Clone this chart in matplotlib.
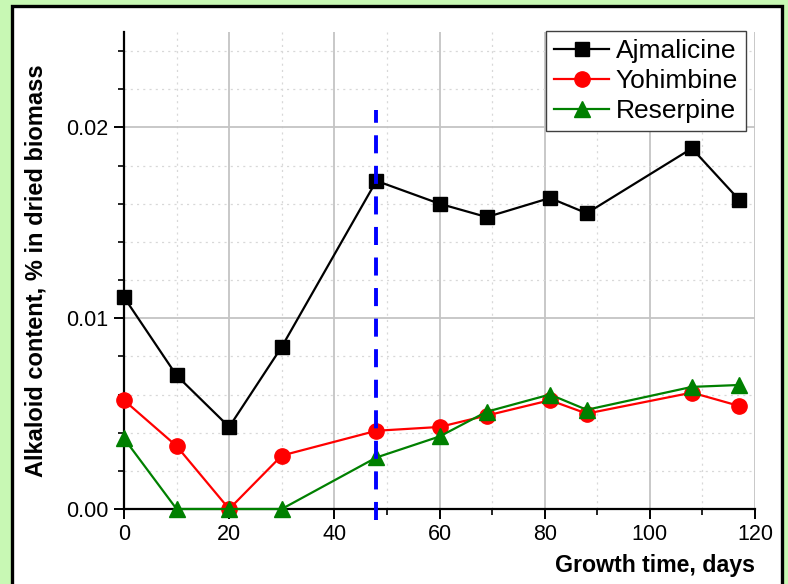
import matplotlib
matplotlib.use("Agg")
import matplotlib.pyplot as plt
from matplotlib.patches import Rectangle
from matplotlib.ticker import MultipleLocator, FormatStrFormatter

plt.rcParams['font.family'] = ['Liberation Sans', 'DejaVu Sans']
plt.rcParams['lines.scale_dashes'] = False

days = [0, 10, 20, 30, 48, 60, 69, 81, 88, 108, 117]
ajmalicine = [0.0111, 0.0070, 0.0043, 0.0085, 0.0172, 0.0160, 0.0153, 0.0163, 0.0155, 0.0189, 0.0162]
yohimbine = [0.0057, 0.0033, 0.0000, 0.0028, 0.0041, 0.0043, 0.0049, 0.0057, 0.0050, 0.0061, 0.0054]
reserpine = [0.0037, 0.0000, 0.0000, 0.0000, 0.0027, 0.0038, 0.0051, 0.0060, 0.0052, 0.0064, 0.0065]
marker_day = 48
marker_span = [-0.0006, 0.0209]

fig = plt.figure(figsize=(7.88, 5.84), dpi=100)
fig.patch.set_facecolor('#c8f8b4')
fig.patches.append(Rectangle((12/788, -0.02), (782-12)/788, 1.02 - 6/584 + 0.0,
                             transform=fig.transFigure, facecolor='white',
                             edgecolor='black', linewidth=2.4, zorder=-10))

ax = fig.add_axes([124/788, 1-509/584, (755-124)/788, (509-32)/584])
ax.set_facecolor('none')

ax.plot(days, ajmalicine, color='black', lw=1.6, marker='s', ms=10, label='Ajmalicine', zorder=5, clip_on=False)
ax.plot(days, yohimbine, color='red', lw=1.6, marker='o', ms=11, label='Yohimbine', zorder=4, clip_on=False)
ax.plot(days, reserpine, color='green', lw=1.6, marker='^', ms=11, label='Reserpine', zorder=6, clip_on=False)
ax.plot([marker_day, marker_day], marker_span, color='blue', lw=2.8, dashes=(13, 9), zorder=7, clip_on=False)

ax.set_xlim(0, 120)
ax.set_ylim(0, 0.025)
ax.xaxis.set_major_locator(MultipleLocator(20))
ax.xaxis.set_minor_locator(MultipleLocator(10))
ax.yaxis.set_major_locator(MultipleLocator(0.01))
ax.yaxis.set_minor_locator(MultipleLocator(0.002))
ax.yaxis.set_major_formatter(FormatStrFormatter('%.2f'))

ax.grid(which='major', color='#c4c4c4', lw=1.3, ls='-')
ax.grid(which='minor', color='#d8d8d8', lw=0.9, ls=(0, (1.5, 3.0)))
ax.set_axisbelow(True)

for s in ['top', 'right']:
    ax.spines[s].set_visible(False)
for s in ['left', 'bottom']:
    ax.spines[s].set_linewidth(1.6)

ax.tick_params(which='major', direction='out', length=7, width=1.4, labelsize=15.5, pad=4)
ax.tick_params(which='minor', direction='out', length=4, width=1.2)

ax.set_xlabel('Growth time, days', fontsize=16.7, fontweight='bold')
ax.xaxis.set_label_coords(1.0, -0.095)
ax.xaxis.label.set_horizontalalignment('right')
ax.set_ylabel('Alkaloid content, % in dried biomass', fontsize=17, fontweight='bold')
ax.yaxis.label.set_verticalalignment('center')
ax.yaxis.set_label_coords((36-124)/(755-124), 0.5)

leg = ax.legend(loc='upper right', bbox_to_anchor=((746-124)/(755-124), 1.0 + 1/477),
                fontsize=19, frameon=True, fancybox=False, shadow=False,
                handlelength=2.1, handletextpad=0.25, labelspacing=0.23,
                borderpad=0.3, borderaxespad=0.0)
leg.get_frame().set_edgecolor('#404040')
leg.get_frame().set_linewidth(1.0)
leg.get_frame().set_alpha(1)

fig.savefig('out.png', dpi=100, facecolor=fig.get_facecolor())
